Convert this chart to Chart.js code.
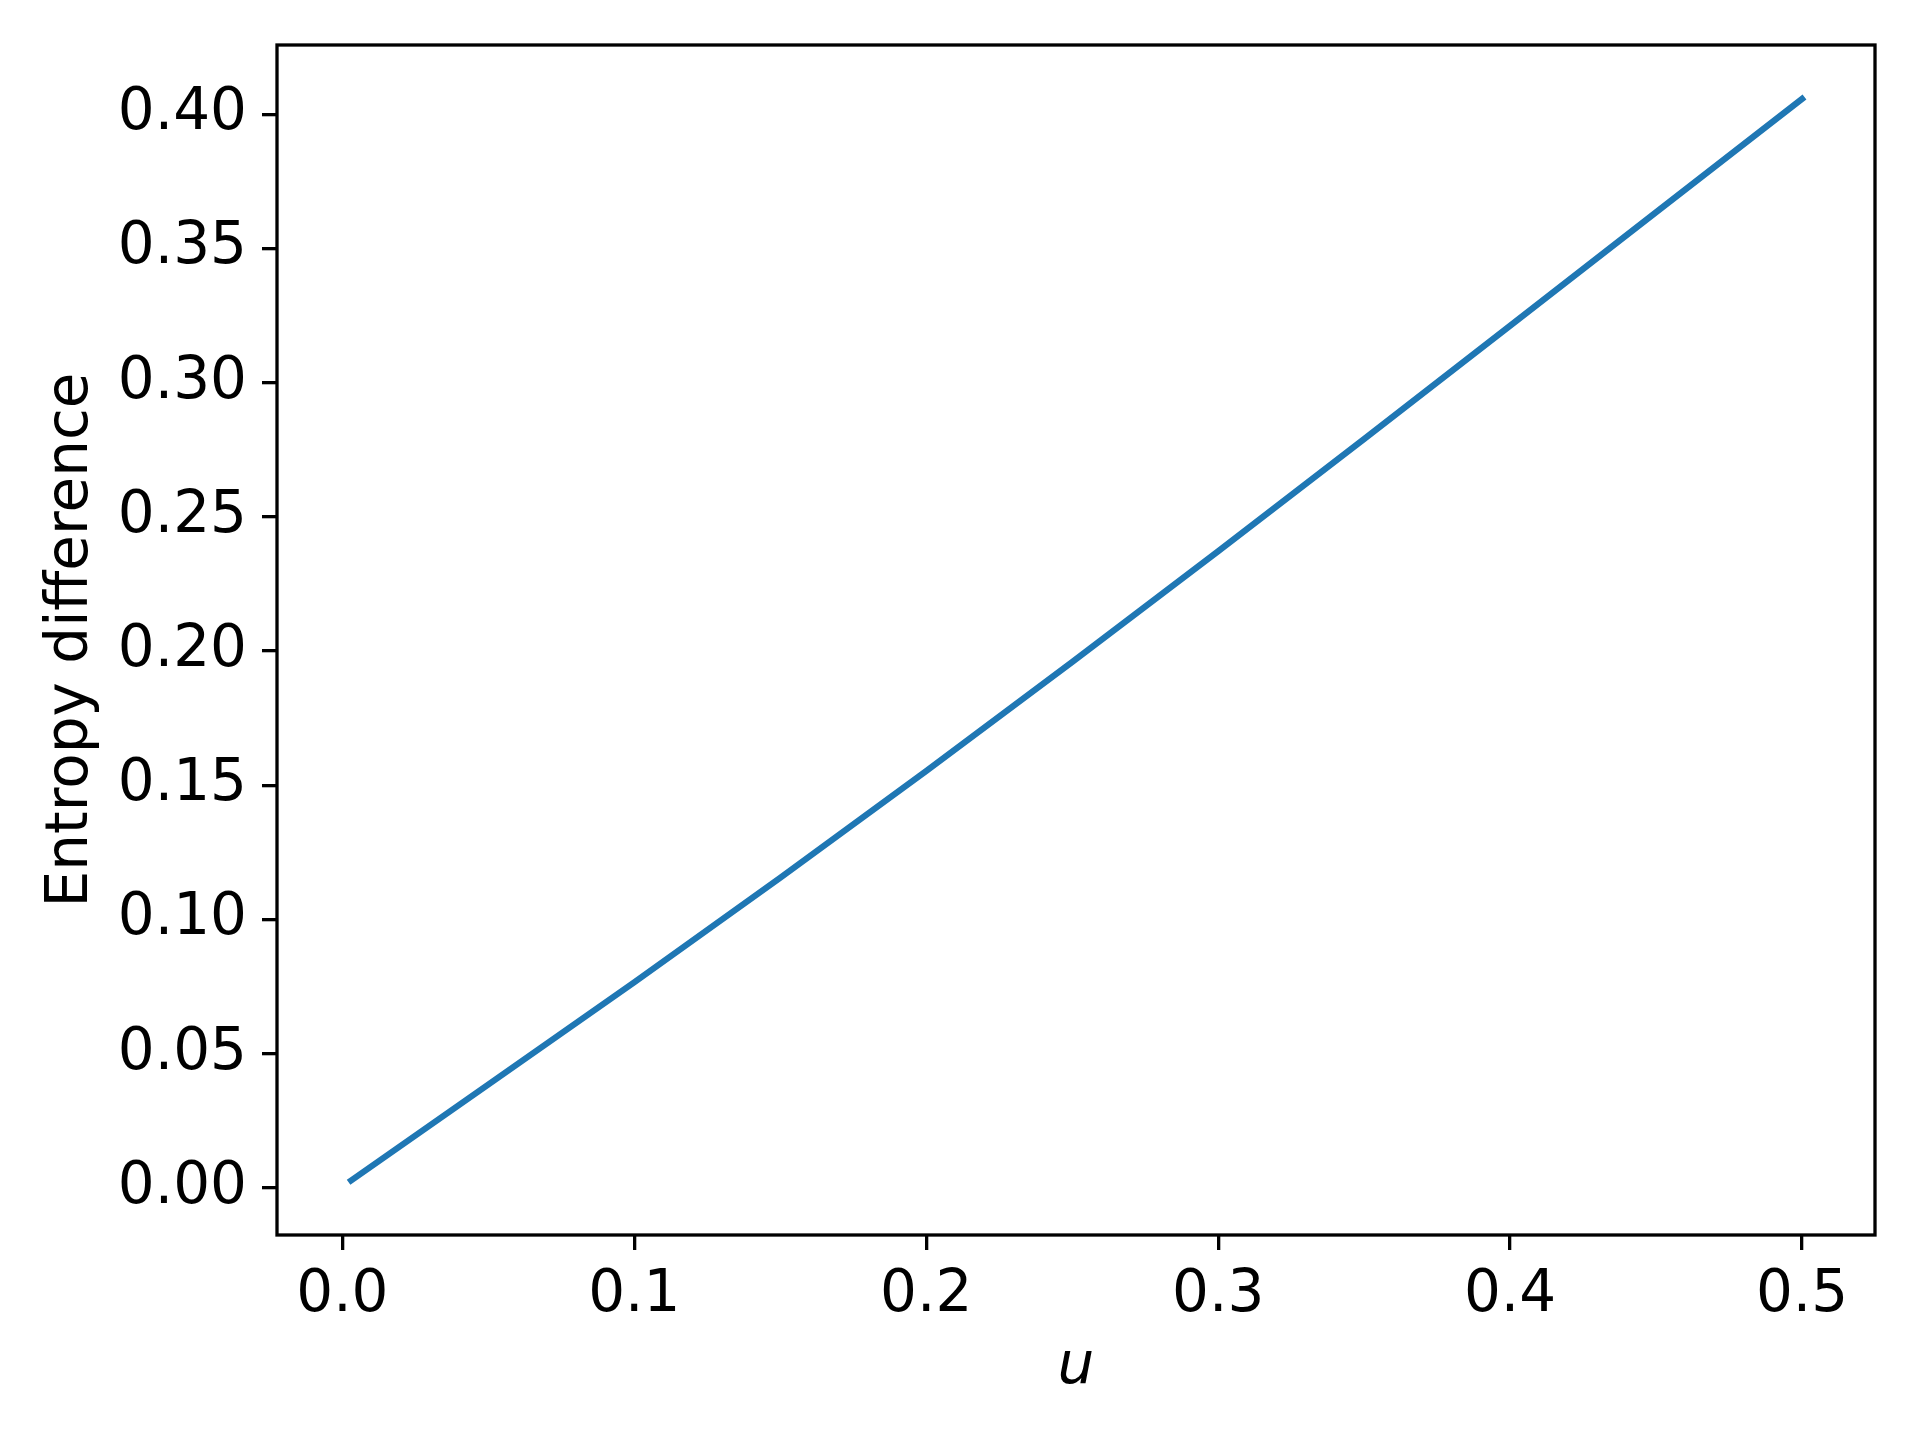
<!DOCTYPE html>
<html>
<head>
<meta charset="utf-8">
<script src="https://cdn.jsdelivr.net/npm/chart.js@4/dist/chart.umd.min.js"></script>
<style>
  html, body { margin: 0; padding: 0; background: #ffffff; }
  #wrap { width: 1920px; height: 1440px; }
</style>
</head>
<body>
<div id="wrap"><canvas id="c" width="1920" height="1440"></canvas></div>
<script>
// ---- data ----
const uValues = [0.003, 0.05, 0.1, 0.15, 0.2, 0.25, 0.3, 0.35, 0.4, 0.45, 0.5];
const entropyDiff = [0.0027, 0.0385, 0.0766, 0.1155, 0.1553, 0.1959, 0.2372, 0.2790, 0.3212, 0.3635, 0.4057];
const xTickValues = [0.0, 0.1, 0.2, 0.3, 0.4, 0.5];
const yTickValues = [0.00, 0.05, 0.10, 0.15, 0.20, 0.25, 0.30, 0.35, 0.40];
const xLabel = 'u';
const yLabel = 'Entropy difference';

const points = uValues.map((u, i) => ({ x: u, y: entropyDiff[i] }));

const boxPlugin = {
  id: 'box',
  afterDraw(chart) {
    const a = chart.chartArea;
    const ctx = chart.ctx;
    ctx.save();
    ctx.strokeStyle = '#000';
    ctx.lineWidth = 3.3;
    ctx.strokeRect(a.left, a.top, a.right - a.left, a.bottom - a.top);
    ctx.restore();
  }
};

const tickFont = { family: 'DejaVu Sans', size: 58 };

new Chart(document.getElementById('c'), {
  type: 'scatter',
  data: {
    datasets: [{
      data: points,
      showLine: true,
      borderColor: '#1f77b4',
      backgroundColor: '#1f77b4',
      borderWidth: 6.25,
      borderCapStyle: 'square',
      borderJoinStyle: 'round',
      pointRadius: 0,
      pointHoverRadius: 0,
      tension: 0
    }]
  },
  options: {
    responsive: false,
    animation: false,
    devicePixelRatio: 1,
    layout: { padding: { top: 45, right: 45, left: 0, bottom: 0 } },
    plugins: { legend: { display: false }, tooltip: { enabled: false } },
    scales: {
      x: {
        type: 'linear',
        min: -0.0224,
        max: 0.525,
        afterBuildTicks: (s) => { s.ticks = xTickValues.map(v => ({ value: v })); },
        afterFit: (s) => { s.height = 205; s.paddingLeft = 0; s.paddingRight = 0; },
        ticks: {
          font: tickFont, color: '#000', padding: 11.5,
          maxRotation: 0, autoSkip: false,
          callback: (v) => Number(v).toFixed(1)
        },
        grid: { drawOnChartArea: false, drawTicks: true, tickLength: 15, tickWidth: 3.3, lineWidth: 3.3, color: '#000' },
        border: { display: false },
        title: {
          display: true, text: xLabel, color: '#000',
          font: { family: 'DejaVu Sans', size: 58, style: 'italic' },
          padding: { top: 0, bottom: 37 }
        }
      },
      y: {
        type: 'linear',
        min: -0.0176,
        max: 0.4258,
        afterBuildTicks: (s) => { s.ticks = yTickValues.map(v => ({ value: v })); },
        afterFit: (s) => { s.width = 277; s.paddingTop = 0; s.paddingBottom = 0; },
        ticks: {
          font: tickFont, color: '#000', padding: 15,
          autoSkip: false,
          callback: (v) => Number(v).toFixed(2)
        },
        grid: { drawOnChartArea: false, drawTicks: true, tickLength: 15, tickWidth: 3.3, lineWidth: 3.3, color: '#000' },
        border: { display: false },
        title: {
          display: true, text: yLabel, color: '#000',
          font: { family: 'DejaVu Sans', size: 58 },
          padding: { top: 37.5, bottom: 0 }
        }
      }
    }
  },
  plugins: [boxPlugin]
});
</script>
</body>
</html>
